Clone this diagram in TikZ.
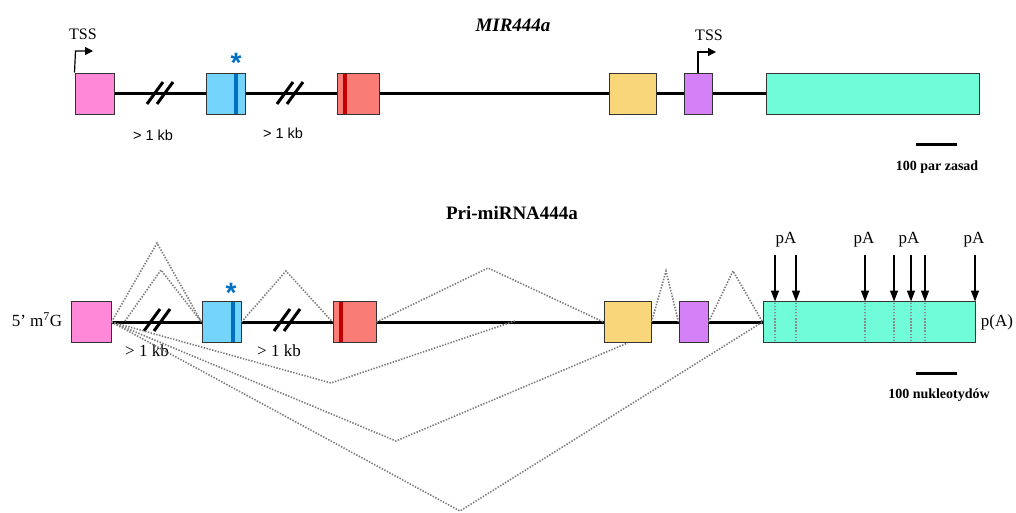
\documentclass[tikz,border=0pt]{standalone}
\usepackage{fontspec}
\setmainfont{Liberation Serif}
\setsansfont{Liberation Sans}
\usetikzlibrary{arrows.meta}

\definecolor{exA}{HTML}{FF89D8}
\definecolor{exB}{HTML}{75D4FC}
\definecolor{exC}{HTML}{FA7C76}
\definecolor{exD}{HTML}{F9D679}
\definecolor{exE}{HTML}{D481F8}
\definecolor{exF}{HTML}{70FCD8}
\definecolor{markB}{HTML}{0070C0}
\definecolor{markC}{HTML}{C00000}
\definecolor{splicegray}{HTML}{7A7A7A}
\definecolor{sitegray}{HTML}{8A8A8A}

\begin{document}
\begin{tikzpicture}[x=1pt,y=-1pt,
  exon/.style={draw=black!80, line width=1pt, inner sep=0pt, minimum height=41pt},
  intron/.style={line width=3pt, black},
  brk/.style={line width=3pt, black},
  splice/.style={draw=splicegray, line width=1.6pt, dash pattern=on 1.4pt off 1.5pt},
  site/.style={draw=sitegray, line width=1.4pt, dash pattern=on 1.5pt off 1.6pt},
  stripe/.style={line width=3.4pt},
  tss/.style={line width=1.2pt, -{Triangle[length=8pt,width=8pt]}},
  pa/.style={line width=1.3pt, -{Triangle[length=11pt,width=8pt]}},
  lab/.style={inner sep=0pt, font=\fontsize{17}{19}\selectfont},
  ttl/.style={inner sep=0pt, font=\fontsize{19}{22}\selectfont\bfseries},
  scl/.style={inner sep=0pt, font=\fontsize{14}{16}\selectfont\bfseries},
  kbsans/.style={inner sep=0pt, font=\fontsize{14.5}{16}\selectfont\sffamily},
  starlab/.style={inner sep=0pt, text=markB, font=\fontsize{28}{28}\selectfont\sffamily\bfseries},
  scalebar/.style={line width=3pt, black}]
\useasboundingbox (0,0) rectangle (1016,512);

% ---------------- gene: MIR444a ----------------
\node[ttl] (title1) at (513,25) {\itshape MIR444a};

\node[exon, fill=exA, minimum width=39pt] (t1) at (94.5,93.5) {};
\node[exon, fill=exB, minimum width=39pt] (t2) at (225.5,93.5) {};
\node[exon, fill=exC, minimum width=42pt] (t3) at (358,93.5) {};
\node[exon, fill=exD, minimum width=47pt] (t4) at (632.5,93.5) {};
\node[exon, fill=exE, minimum width=28pt] (t5) at (698,93.5) {};
\node[exon, fill=exF, minimum width=213pt] (t6) at (872.5,93.5) {};

\draw[intron] (t1.east) -- (t2.west);
\draw[intron] (t2.east) -- (t3.west);
\draw[intron] (t3.east) -- (t4.west);
\draw[intron] (t4.east) -- (t5.west);
\draw[intron] (t5.east) -- (t6.west);

% coloured bands inside exons 2 and 3
\draw[stripe, markB] (236,73.5) -- (236,113.5);
\draw[stripe, markC] (345,73.5) -- (345,113.5);

% interrupted introns
\draw[brk] (147,104) -- (163,82);
\draw[brk] (157,104) -- (173,82);
\draw[brk] (277,104) -- (293,82);
\draw[brk] (287,104) -- (303,82);
\node[kbsans] (kb1) at (153,135) {> 1 kb};
\node[kbsans] (kb2) at (283,133) {> 1 kb};

\node[starlab] (star1) at (236,63) {*};

% transcription start sites
\coordinate (tssA) at (75.5,51);
\coordinate (tssAend) at (93,51);
\draw[tss] (t1.north west) -- (tssA) -- (tssAend);
\node[lab, font=\fontsize{16}{18}\selectfont] (tssAlab) at (83,34) {TSS};
\coordinate (tssB) at (698,52);
\coordinate (tssBend) at (716,52);
\draw[tss] (t5.north) -- (tssB) -- (tssBend);
\node[lab, font=\fontsize{16}{18}\selectfont] (tssBlab) at (709,35) {TSS};

\draw[scalebar] (916,144) -- (957,144);
\node[scl] (scale1) at (937,167) {100 par zasad};

% ---------------- transcript: Pri-miRNA444a ----------------
\node[ttl] (title2) at (512,213) {Pri-miRNA444a};

\node[exon, fill=exA, minimum width=40pt] (b1) at (91,322) {};
\node[exon, fill=exB, minimum width=39pt] (b2) at (221.5,322) {};
\node[exon, fill=exC, minimum width=43pt] (b3) at (354.5,322) {};
\node[exon, fill=exD, minimum width=47pt] (b4) at (627.5,322) {};
\node[exon, fill=exE, minimum width=29pt] (b5) at (693.5,322) {};
\node[exon, fill=exF, minimum width=212pt] (b6) at (869,322) {};

\draw[intron] (b1.east) -- (b2.west);
\draw[intron] (b2.east) -- (b3.west);
\draw[intron] (b3.east) -- (b4.west);
\draw[intron] (b4.east) -- (b5.west);
\draw[intron] (b5.east) -- (b6.west);

\draw[stripe, markB] (233,302) -- (233,342);
\draw[stripe, markC] (341,302) -- (341,342);

\draw[brk] (144,331) -- (160,309);
\draw[brk] (154,331) -- (170,309);
\draw[brk] (274,331) -- (290,309);
\draw[brk] (284,331) -- (300,309);
\node[lab] (kb3) at (147,351) {> 1 kb};
\node[lab] (kb4) at (279,351) {> 1 kb};

\node[starlab] (star2) at (231,293) {*};

\node[lab] (cap) at (37,320) {5’ m\textsuperscript{7}G};
\node[lab] (polyA) at (997,322) {p(A)};

% splice junctions above the transcript
\coordinate (p1) at (157,243);
\coordinate (s2) at (125,321);
\coordinate (p2) at (161,270);
\coordinate (p3) at (286,271);
\coordinate (p4) at (488,268);
\coordinate (p5) at (666,271);
\coordinate (p6) at (733,271);
\draw[splice] (b1.east) -- (p1) -- (b2.west);
\draw[splice] (s2) -- (p2) -- (b2.west);
\draw[splice] (b2.east) -- (p3) -- (b3.west);
\draw[splice] (b3.east) -- (p4) -- (b4.west);
\draw[splice] (b4.east) -- (p5) -- (b5.west);
\draw[splice] (b5.east) -- (p6) -- (b6.west);

% splice junctions below the transcript
\coordinate (q1) at (331,383);
\coordinate (e1) at (515,321);
\coordinate (q2) at (396,441);
\coordinate (q3) at (460,511);
\draw[splice] (b1.east) -- (q1) -- (e1);
\draw[splice] (b1.east) -- (q2) -- (b4.south);
\draw[splice] (b1.east) -- (q3) -- (b6.west);

% polyadenylation sites
\foreach \x in {775,796,865,894,911,925}
  \draw[site] (\x,302.5) -- (\x,342.5);
\foreach \x/\n in {775/a,796/b,865/c,894/d,911/e,925/f,975/g}{
  \coordinate (pa\n) at (\x,255);
  \draw[pa] (pa\n) -- (\x,301.5);
}
\node[lab] (paL1) at (786,240) {pA};
\node[lab] (paL2) at (864,240) {pA};
\node[lab] (paL3) at (909,240) {pA};
\node[lab] (paL4) at (974,240) {pA};

\draw[scalebar] (916,373) -- (957,373);
\node[scl] (scale2) at (939,395) {100 nukleotydów};
\end{tikzpicture}
\end{document}
